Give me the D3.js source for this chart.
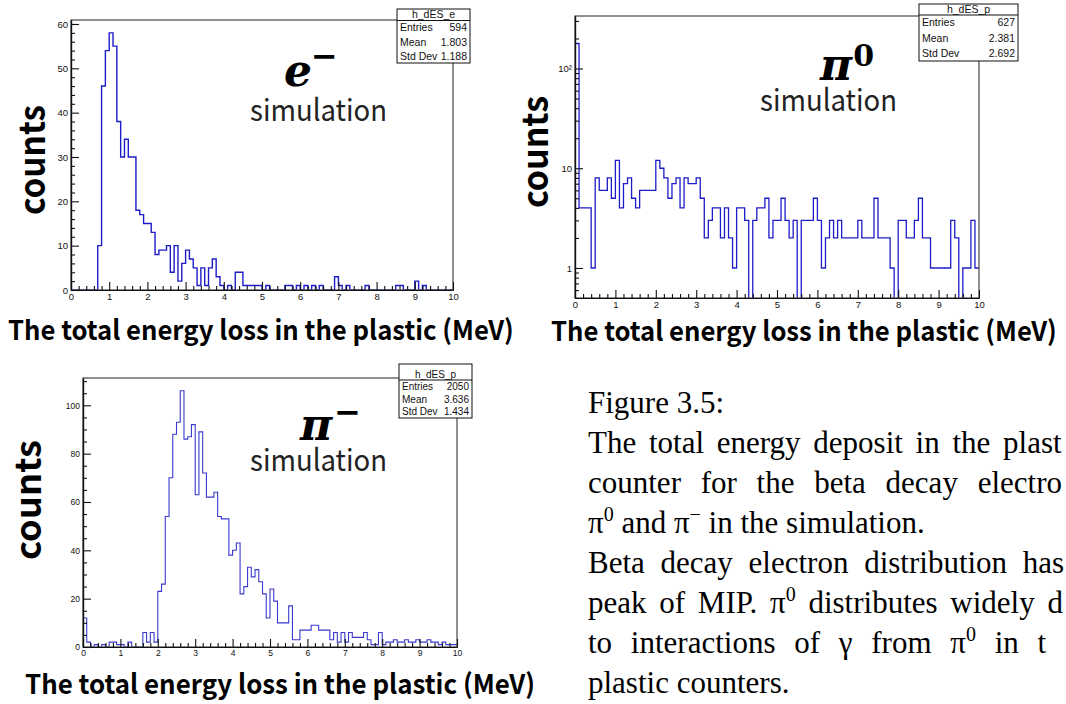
<!DOCTYPE html>
<html><head><meta charset="utf-8">
<script src="https://cdn.jsdelivr.net/npm/d3@7"></script>
<style>
html,body{margin:0;padding:0;background:#fff;}
svg{display:block;}
</style></head><body>
<svg id="c" width="1066" height="704"></svg>
<script>
// ---------- data ----------
const xTickValues = [0,1,2,3,4,5,6,7,8,9,10];
const xTickLabels = ["0","1","2","3","4","5","6","7","8","9","10"];
const binWidth = 0.1;

// e- simulation : counts per 0.1 MeV bin, 0..10 MeV
const eCounts = [0,0,0,0,0,0,0,10,46,54, 58,55,38,30,34,30,30,18,17,15,
  15,13,8,9,9,10,4,10,2,6, 9,7,5,1,5,1,5,7,3,1,
  0,1,0,4,4,1,1,1,1,1, 0,1,0,0,0,0,1,1,0,1,
  0,1,0,1,0,1,0,0,0,3, 1,0,1,0,0,0,0,1,0,0,
  0,0,0,0,0,1,1,0,0,0, 2,0,1,0,0,0,0,0,0,0];
// pi0 simulation
const pi0Counts = [178,4,4,4,1,8,6,6,8,5, 12,4,7,8,5,4,6,6,6,6,
  12,10,8,5,7,8,4,8,7,7, 8,5,2,3,4,4,2,4,2,1,
  4,4,3,0,3,4,4,5,2,3, 3,5,3,2,3,0,3,3,3,5,
  3,1,2,3,2,3,2,2,2,2, 3,2,2,2,5,2,2,2,1,0,
  3,3,2,2,3,5,2,2,1,1, 1,1,1,3,2,0,1,1,3,1];
// pi- simulation
const piMCounts = [12,2,0,1,0,1,0,2,2,1, 1,0,2,0,0,0,6,2,6,2,
  23,26,54,70,88,93,106,86,87,92, 63,89,72,62,62,64,54,53,53,38,
  40,43,22,25,33,29,32,27,22,12, 24,19,10,10,10,17,3,3,7,7,
  7,9,9,7,7,7,3,6,2,6, 2,6,4,4,4,6,3,1,1,6,
  1,2,2,3,2,2,3,2,2,3, 2,2,3,2,2,1,2,1,1,1];

const eYMajor = [0,10,20,30,40,50,60];
const eYMinor = [2,4,6,8,12,14,16,18,22,24,26,28,32,34,36,38,42,44,46,48,52,54,56,58,60];
const piMYMajor = [0,20,40,60,80,100];
const piMYMinor = [5,10,15,25,30,35,45,50,55,65,70,75,85,90,95,105,110];
const pi0YMajor = [1,10,100];
const pi0YMajorLabels = ["1","10","10\u00B2"];
const pi0YMinor = [0.6,0.7,0.8,0.9,2,3,4,5,6,7,8,9,20,30,40,50,60,70,80,90,200,300];
const xMinor = [0.2,0.4,0.6,0.8,1.2,1.4,1.6,1.8,2.2,2.4,2.6,2.8,3.2,3.4,3.6,3.8,4.2,4.4,4.6,4.8,
  5.2,5.4,5.6,5.8,6.2,6.4,6.6,6.8,7.2,7.4,7.6,7.8,8.2,8.4,8.6,8.8,9.2,9.4,9.6,9.8];

const statsE = {name:"h_dES_e", labels:["Entries","Mean","Std Dev"], values:["594","1.803","1.188"]};
const statsPi0 = {name:"h_dES_p", labels:["Entries","Mean","Std Dev"], values:["627","2.381","2.692"]};
const statsPiM = {name:"h_dES_p", labels:["Entries","Mean","Std Dev"], values:["2050","3.636","1.434"]};

const xTitle = "The total energy loss in the plastic (MeV)";
const yTitle = "counts";

// ---------- drawing ----------
const svg = d3.select("#c");
const defs = svg.append("defs");
const tickFont = "'Liberation Sans', Arial, sans-serif";
const titleFont = "'Noto Sans CJK JP', 'Noto Sans', sans-serif";

function drawPanel(p) {
  const g = svg.append("g");
  const x = d3.scaleLinear().domain([0, 10]).range([p.left, p.right]);
  const y = p.log
    ? d3.scaleLog().domain(p.yDomain).range([p.bottom, p.top])
    : d3.scaleLinear().domain(p.yDomain).range([p.bottom, p.top]);

  defs.append("clipPath").attr("id", "clip-" + p.id)
    .append("rect").attr("x", p.left).attr("y", p.top)
    .attr("width", p.right - p.left).attr("height", p.bottom - p.top);

  // histogram outline
  const pts = [];
  p.counts.forEach((c, i) => {
    const v = p.log ? (c > 0 ? c : p.yDomain[0] * 0.1) : c;
    pts.push([i * binWidth, v], [(i + 1) * binWidth, v]);
  });
  const line = d3.line().x(d => x(d[0])).y(d => y(d[1]));
  g.append("path").attr("d", line(pts))
    .attr("clip-path", "url(#clip-" + p.id + ")")
    .attr("fill", "none").attr("stroke", p.color).attr("stroke-width", p.lw);

  // frame
  g.append("rect").attr("x", p.left).attr("y", p.top)
    .attr("width", p.right - p.left).attr("height", p.bottom - p.top)
    .attr("fill", "none").attr("stroke", "#555").attr("stroke-width", 1.3);

  // x axis
  const axB = d3.axisBottom(x).tickValues(xTickValues)
    .tickFormat((d, i) => xTickLabels[i]).tickSize(-8).tickSizeOuter(0).tickPadding(3);
  g.append("g").attr("transform", `translate(0,${p.bottom})`).call(axB);
  g.append("g").attr("transform", `translate(0,${p.bottom})`)
    .call(d3.axisBottom(x).tickValues(xMinor).tickFormat("").tickSize(-4).tickSizeOuter(0));

  // y axis
  let axL;
  if (p.log) {
    axL = d3.axisLeft(y).tickValues(pi0YMajor).tickFormat((d, i) => pi0YMajorLabels[i]);
  } else {
    axL = d3.axisLeft(y).tickValues(p.yMajor).tickFormat(d3.format("d"));
  }
  axL.tickSize(-8).tickSizeOuter(0).tickPadding(3);
  g.append("g").attr("transform", `translate(${p.left},0)`).call(axL);
  g.append("g").attr("transform", `translate(${p.left},0)`)
    .call(d3.axisLeft(y).tickValues(p.yMinor).tickFormat("").tickSize(-4).tickSizeOuter(0));

  g.selectAll(".tick line").attr("stroke", "#111").attr("stroke-width", 1.1);
  g.selectAll(".domain").attr("stroke", "#111").attr("stroke-width", 1.2);
  g.selectAll(".tick text").attr("font-family", tickFont).attr("font-size", p.tickFs)
    .attr("fill", "#111");

  // stats box
  const s = p.stats, b = p.box;
  const sb = g.append("g");
  sb.append("rect").attr("x", b.x).attr("y", b.y).attr("width", b.w).attr("height", b.h)
    .attr("fill", "#fff").attr("stroke", "#111").attr("stroke-width", 1);
  sb.append("line").attr("x1", b.x).attr("x2", b.x + b.w).attr("y1", b.y + b.hh).attr("y2", b.y + b.hh)
    .attr("stroke", "#111").attr("stroke-width", 1);
  sb.append("text").attr("x", b.x + b.w / 2).attr("y", b.y + b.hh - 2.5)
    .attr("text-anchor", "middle").attr("font-family", tickFont).attr("font-size", b.fs)
    .attr("fill", "#111").text(s.name);
  const rowH = (b.h - b.hh) / s.labels.length;
  s.labels.forEach((lab, i) => {
    const yy = b.y + b.hh + rowH * (i + 0.5) + b.fs * 0.36;
    sb.append("text").attr("x", b.x + 3).attr("y", yy).attr("font-family", tickFont)
      .attr("font-size", b.fs).attr("fill", "#111").text(lab);
    sb.append("text").attr("x", b.x + b.w - 3).attr("y", yy).attr("text-anchor", "end")
      .attr("font-family", tickFont).attr("font-size", b.fs).attr("fill", "#111").text(s.values[i]);
  });

  // axis titles (horizontally scaled to the reference width)
  const xt = g.append("text").attr("x", 0).attr("y", 0)
    .attr("font-family", titleFont).attr("font-weight", 700).attr("font-size", 27)
    .attr("fill", "#000").text(xTitle);
  const natW = xt.node().getComputedTextLength() || p.xt.w;
  xt.attr("transform", `translate(${p.xt.x},${p.xt.y}) scale(${p.xt.w / natW},1)`);

  g.append("text").attr("transform", `translate(${p.yt.x},${p.yt.y}) rotate(-90)`)
    .attr("text-anchor", "middle")
    .attr("font-family", titleFont).attr("font-weight", 700).attr("font-size", 35)
    .attr("textLength", p.yt.w).attr("lengthAdjust", "spacingAndGlyphs")
    .attr("fill", "#000").text(yTitle);

  // particle label
  const pl = g.append("text").attr("x", p.pl.x).attr("y", p.pl.y)
    .attr("font-family", "'DejaVu Serif', 'Liberation Serif', serif")
    .attr("font-weight", 700).attr("font-style", "italic").attr("font-size", 44).attr("fill", "#000");
  pl.append("tspan").text(p.pl.base);
  pl.append("tspan").attr("dy", p.pl.sdy).attr("dx", p.pl.sdx).attr("font-size", p.pl.sfs)
    .attr("font-style", p.pl.sup === "0" ? "normal" : "italic").text(p.pl.sup);
  g.append("text").attr("x", p.sim.x).attr("y", p.sim.y)
    .attr("font-family", titleFont).attr("font-weight", 400).attr("font-size", 30)
    .attr("textLength", 137).attr("lengthAdjust", "spacingAndGlyphs")
    .attr("fill", "#222").text("simulation");
}

drawPanel({id: "e", counts: eCounts, left: 71, right: 453, top: 20, bottom: 290,
  yDomain: [0, 60.9], yMajor: eYMajor, yMinor: eYMinor, log: false,
  color: "#1c1cc8", lw: 1.4, tickFs: 9.5, stats: statsE,
  box: {x: 397, y: 9, w: 73, h: 54, hh: 11.5, fs: 10.5},
  xt: {x: 8, y: 340, w: 506}, yt: {x: 45, y: 160, w: 110},
  pl: {x: 284, y: 86, base: "e", sup: "\u2212", sdy: -19, sdx: -1, sfs: 32},
  sim: {x: 250, y: 121}});

drawPanel({id: "pi0", counts: pi0Counts, left: 575, right: 979, top: 16, bottom: 298,
  yDomain: [0.5, 336], yMinor: pi0YMinor, log: true,
  color: "#1c1cc8", lw: 1.3, tickFs: 9.5, stats: statsPi0,
  box: {x: 919, y: 4, w: 99, h: 57, hh: 11, fs: 10.5},
  xt: {x: 551, y: 341, w: 506}, yt: {x: 548, y: 152, w: 112},
  pl: {x: 820, y: 80, base: "\u03C0", sup: "0", sdy: -14, sdx: 1, sfs: 30},
  sim: {x: 760, y: 111}});

drawPanel({id: "pim", counts: piMCounts, left: 83, right: 457, top: 378, bottom: 647,
  yDomain: [0, 111.3], yMajor: piMYMajor, yMinor: piMYMinor, log: false,
  color: "#3a3ad0", lw: 1.1, tickFs: 8.5, stats: statsPiM,
  box: {x: 399, y: 364, w: 73, h: 54, hh: 16, fs: 10},
  xt: {x: 25, y: 694, w: 510}, yt: {x: 41, y: 500, w: 120},
  pl: {x: 300, y: 440, base: "\u03C0", sup: "\u2212", sdy: -17, sdx: 2, sfs: 32},
  sim: {x: 250, y: 471}});

// ---------- caption ----------
const captionLines = [
  {parts: [["Figure 3.5:", 0]], ws: 0},
  {parts: [["The total energy deposit in the plast", 0]], ws: 5},
  {parts: [["counter for the beta decay electro", 0]], ws: 12},
  {parts: [["\u03C0", 0], ["0", 1], [" and \u03C0", 0], ["\u2212", 1], [" in the simulation.", 0]], ws: 0},
  {parts: [["Beta decay electron distribution has", 0]], ws: 8},
  {parts: [["peak of MIP. \u03C0", 0], ["0", 1], [" distributes widely d", 0]], ws: 5},
  {parts: [["to interactions of \u03B3 from \u03C0", 0], ["0", 1], [" in t", 0]], ws: 11},
  {parts: [["plastic counters.", 0]], ws: 0}
];
const cap = svg.append("g").attr("font-family", "'Liberation Serif', 'Times New Roman', serif")
  .attr("font-size", 31).attr("fill", "#000");
captionLines.forEach((ln, i) => {
  const t = cap.append("text").attr("x", 588).attr("y", 413 + i * 40)
    .style("word-spacing", ln.ws + "px");
  let raised = false;
  ln.parts.forEach(([txt, sup]) => {
    const ts = t.append("tspan").text(txt);
    if (sup) {
      ts.attr("dy", -12).attr("font-size", 20);
      raised = true;
    } else if (raised) {
      ts.attr("dy", 12);
      raised = false;
    }
  });
});
</script>
</body></html>
